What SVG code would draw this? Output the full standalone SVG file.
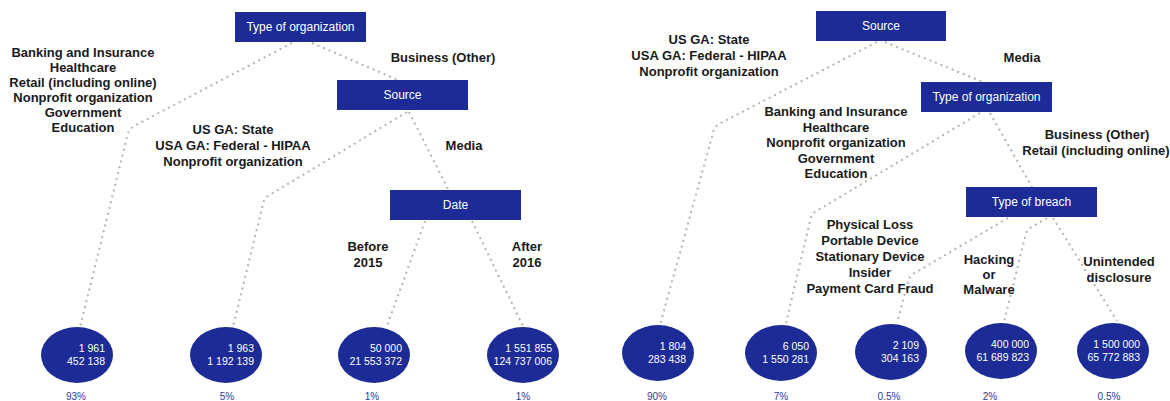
<svg xmlns="http://www.w3.org/2000/svg" width="1170" height="401" viewBox="0 0 1170 401">
<style>
.box{fill:#1c2b95}
.leaf{fill:#1c2b95}
.bt{font-family:"Liberation Sans",Arial,sans-serif;font-size:12px;fill:#ffffff;text-anchor:middle}
.lbl{font-family:"Liberation Sans",Arial,sans-serif;font-size:13px;font-weight:bold;fill:#1a1a1a;text-anchor:middle}
.num{font-family:"Liberation Sans",Arial,sans-serif;font-size:10.5px;fill:#ffffff;text-anchor:end}
.pct{font-family:"Liberation Sans",Arial,sans-serif;font-size:10px;fill:#2b3a9b;text-anchor:middle}
.con{fill:none;stroke:#b3b3b3;stroke-width:2;stroke-dasharray:2 4}
</style>
<rect width="1170" height="401" fill="#ffffff"/>
<g id="connectors">
<path class="con" d="M292,43 L134,126 Q128,130 127,137 L80,327"/>
<path class="con" d="M312,43 L398,80"/>
<path class="con" d="M407,112 L268,196 Q264,199 263,204 L233,327"/>
<path class="con" d="M409,112 L448,189"/>
<path class="con" d="M425,221 L387,326"/>
<path class="con" d="M472,221 L523,326"/>
<path class="con" d="M877,42 L719,124 Q714,127 713,133 L660,325"/>
<path class="con" d="M885,42 L983,82"/>
<path class="con" d="M980,113 L815,212 Q811,215 810,221 L786,323"/>
<path class="con" d="M990,113 L1032,187"/>
<path class="con" d="M1008,218 L913,274 Q909,277 908,282 L897,323"/>
<path class="con" d="M1047,218 L1030,228 Q1026,231 1025,237 L1004,322"/>
<path class="con" d="M1053,218 L1117,321"/>
</g>
<g id="n-type-org-left"><rect class="box" x="235" y="12" width="131" height="30"/><text class="bt" x="300.5" y="31">Type of organization</text></g>
<g id="n-source-left"><rect class="box" x="337" y="80" width="131" height="30"/><text class="bt" x="402.5" y="99">Source</text></g>
<g id="n-date-left"><rect class="box" x="390" y="190" width="131" height="30"/><text class="bt" x="455.5" y="209">Date</text></g>
<g id="n-source-right"><rect class="box" x="816" y="11" width="130" height="30"/><text class="bt" x="881" y="30">Source</text></g>
<g id="n-type-org-right"><rect class="box" x="921" y="82" width="131" height="30"/><text class="bt" x="986.5" y="101">Type of organization</text></g>
<g id="n-type-breach"><rect class="box" x="966" y="187" width="131" height="30"/><text class="bt" x="1031.5" y="206">Type of breach</text></g>
<g id="labels">
<text class="lbl" x="83" y="57">Banking and Insurance</text>
<text class="lbl" x="83" y="72">Healthcare</text>
<text class="lbl" x="83" y="87">Retail (including online)</text>
<text class="lbl" x="83" y="102">Nonprofit organization</text>
<text class="lbl" x="83" y="117">Government</text>
<text class="lbl" x="83" y="132">Education</text>
<text class="lbl" x="443" y="62">Business (Other)</text>
<text class="lbl" x="233" y="134">US GA: State</text>
<text class="lbl" x="233" y="150">USA GA: Federal - HIPAA</text>
<text class="lbl" x="233" y="166">Nonprofit organization</text>
<text class="lbl" x="464" y="150">Media</text>
<text class="lbl" x="368" y="251">Before</text>
<text class="lbl" x="368" y="267">2015</text>
<text class="lbl" x="527" y="251">After</text>
<text class="lbl" x="527" y="267">2016</text>
<text class="lbl" x="709" y="44">US GA: State</text>
<text class="lbl" x="709" y="60">USA GA: Federal - HIPAA</text>
<text class="lbl" x="709" y="76">Nonprofit organization</text>
<text class="lbl" x="1022" y="62">Media</text>
<text class="lbl" x="836" y="116">Banking and Insurance</text>
<text class="lbl" x="836" y="131.5">Healthcare</text>
<text class="lbl" x="836" y="147">Nonprofit organization</text>
<text class="lbl" x="836" y="162.5">Government</text>
<text class="lbl" x="836" y="178">Education</text>
<text class="lbl" x="1097" y="139">Business (Other)</text>
<text class="lbl" x="1096" y="155">Retail (including online)</text>
<text class="lbl" x="870" y="229">Physical Loss</text>
<text class="lbl" x="870" y="245">Portable Device</text>
<text class="lbl" x="870" y="261">Stationary Device</text>
<text class="lbl" x="870" y="277">Insider</text>
<text class="lbl" x="870" y="293">Payment Card Fraud</text>
<text class="lbl" x="989" y="264">Hacking</text>
<text class="lbl" x="989" y="279">or</text>
<text class="lbl" x="989" y="294">Malware</text>
<text class="lbl" x="1119" y="266">Unintended</text>
<text class="lbl" x="1119" y="282">disclosure</text>
</g>
<g id="leaf-1"><ellipse class="leaf" cx="77" cy="355" rx="36" ry="28"/><text class="num" x="105" y="352">1 961</text><text class="num" x="105" y="365">452 138</text><text class="pct" x="76" y="400">93%</text></g>
<g id="leaf-2"><ellipse class="leaf" cx="226" cy="355" rx="36" ry="28"/><text class="num" x="254" y="352">1 963</text><text class="num" x="254" y="365">1 192 139</text><text class="pct" x="227" y="400">5%</text></g>
<g id="leaf-3"><ellipse class="leaf" cx="374" cy="355" rx="36" ry="28"/><text class="num" x="402" y="352">50 000</text><text class="num" x="402" y="365">21 553 372</text><text class="pct" x="372" y="400">1%</text></g>
<g id="leaf-4"><ellipse class="leaf" cx="523" cy="355" rx="36" ry="28"/><text class="num" x="552" y="352">1 551 855</text><text class="num" x="552" y="365">124 737 006</text><text class="pct" x="523" y="400">1%</text></g>
<g id="leaf-5"><ellipse class="leaf" cx="658" cy="353" rx="36" ry="28"/><text class="num" x="686" y="350">1 804</text><text class="num" x="686" y="363">283 438</text><text class="pct" x="657" y="400">90%</text></g>
<g id="leaf-6"><ellipse class="leaf" cx="781" cy="353" rx="36" ry="28"/><text class="num" x="809" y="350">6 050</text><text class="num" x="809" y="363">1 550 281</text><text class="pct" x="781" y="400">7%</text></g>
<g id="leaf-7"><ellipse class="leaf" cx="891" cy="352" rx="36" ry="28"/><text class="num" x="919" y="349">2 109</text><text class="num" x="919" y="362">304 163</text><text class="pct" x="889" y="400">0.5%</text></g>
<g id="leaf-8"><ellipse class="leaf" cx="1001" cy="351" rx="36" ry="28"/><text class="num" x="1029" y="348">400 000</text><text class="num" x="1029" y="361">61 689 823</text><text class="pct" x="990" y="400">2%</text></g>
<g id="leaf-9"><ellipse class="leaf" cx="1113" cy="351" rx="36" ry="28"/><text class="num" x="1140" y="348">1 500 000</text><text class="num" x="1140" y="361">65 772 883</text><text class="pct" x="1109" y="400">0.5%</text></g>
</svg>
